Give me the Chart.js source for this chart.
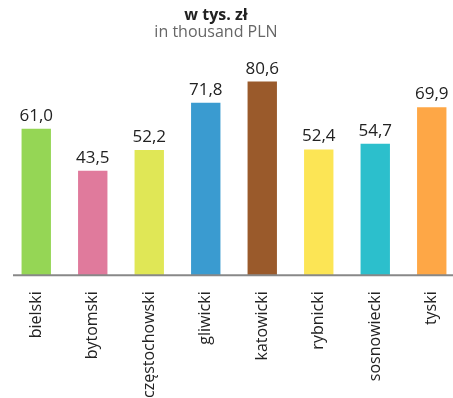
<!DOCTYPE html>
<html>
<head>
<meta charset="utf-8">
<script src="https://cdn.jsdelivr.net/npm/chart.js@4"></script>
<style>
    html, body { margin: 0; padding: 0; background: #fff; overflow: hidden; }
    #wrap { width: 460px; height: 398px; }
</style>
</head>
<body>
<div id="wrap"><canvas id="chart"></canvas></div>
<script>
// Data.
var categories = ["bielski", "bytomski", "częstochowski", "gliwicki", "katowicki", "rybnicki", "sosnowiecki", "tyski"];
var values = [61.0, 43.5, 52.2, 71.8, 80.6, 52.4, 54.7, 69.9];
var barColors = ["#95d655", "#e07a9c", "#e0e756", "#3a9bd0", "#9a5a2b", "#fce555", "#2cbfcc", "#fea746"];
var titleText = "w tys. zł";
var subtitleText = "in thousand PLN";

var fontFamily = "'Open Sans', sans-serif";

// Draws the two heading lines above the bars.
var headingPlugin = {
    id: 'heading',
    afterDraw: function (chart) {
        var ctx = chart.ctx;
        ctx.save();
        ctx.textAlign = 'center';
        ctx.textBaseline = 'alphabetic';
        ctx.fillStyle = '#222222';
        ctx.font = "bold 16px " + fontFamily;
        ctx.fillText(titleText, 216, 20);
        ctx.fillStyle = '#666666';
        ctx.font = "16px " + fontFamily;
        ctx.fillText(subtitleText, 216, 37);
        ctx.restore();
    }
};

// Draws the value over every bar and the baseline.
var valueLabelPlugin = {
    id: 'valueLabels',
    afterDatasetsDraw: function (chart) {
        var ctx = chart.ctx;
        var meta = chart.getDatasetMeta(0);
        var zeroY = chart.scales.y.getPixelForValue(0);
        ctx.save();
        ctx.strokeStyle = '#888888';
        ctx.lineWidth = 2;
        ctx.beginPath();
        ctx.moveTo(13, zeroY);
        ctx.lineTo(453, zeroY);
        ctx.stroke();

        ctx.fillStyle = '#222222';
        ctx.font = "17px " + fontFamily;
        ctx.textAlign = 'center';
        ctx.textBaseline = 'alphabetic';
        for (var i = 0; i < meta.data.length; i++) {
            var bar = meta.data[i];
            var label = values[i].toFixed(1).replace('.', ',');
            ctx.fillText(label, bar.x, bar.y - 8);
        }
        ctx.restore();
    }
};

new Chart(document.getElementById("chart"), {
    type: 'bar',
    data: {
        labels: categories,
        datasets: [
            {
                data: values,
                backgroundColor: barColors,
                borderWidth: 0,
                barPercentage: 0.52,
                categoryPercentage: 1.0
            }
        ]
    },
    options: {
        responsive: true,
        maintainAspectRatio: false,
        animation: false,
        devicePixelRatio: 1,
        layout: {
            padding: { top: 35, left: 8, right: 0, bottom: -8 }
        },
        plugins: {
            legend: { display: false },
            tooltip: { enabled: false }
        },
        scales: {
            x: {
                grid: { display: false },
                border: { display: false },
                ticks: {
                    color: '#222222',
                    font: { family: fontFamily, size: 16 },
                    minRotation: 90,
                    maxRotation: 90,
                    autoSkip: false,
                    padding: 8
                }
            },
            y: {
                display: false,
                min: 0,
                max: 100
            }
        }
    },
    plugins: [headingPlugin, valueLabelPlugin]
});
</script>
</body>
</html>
